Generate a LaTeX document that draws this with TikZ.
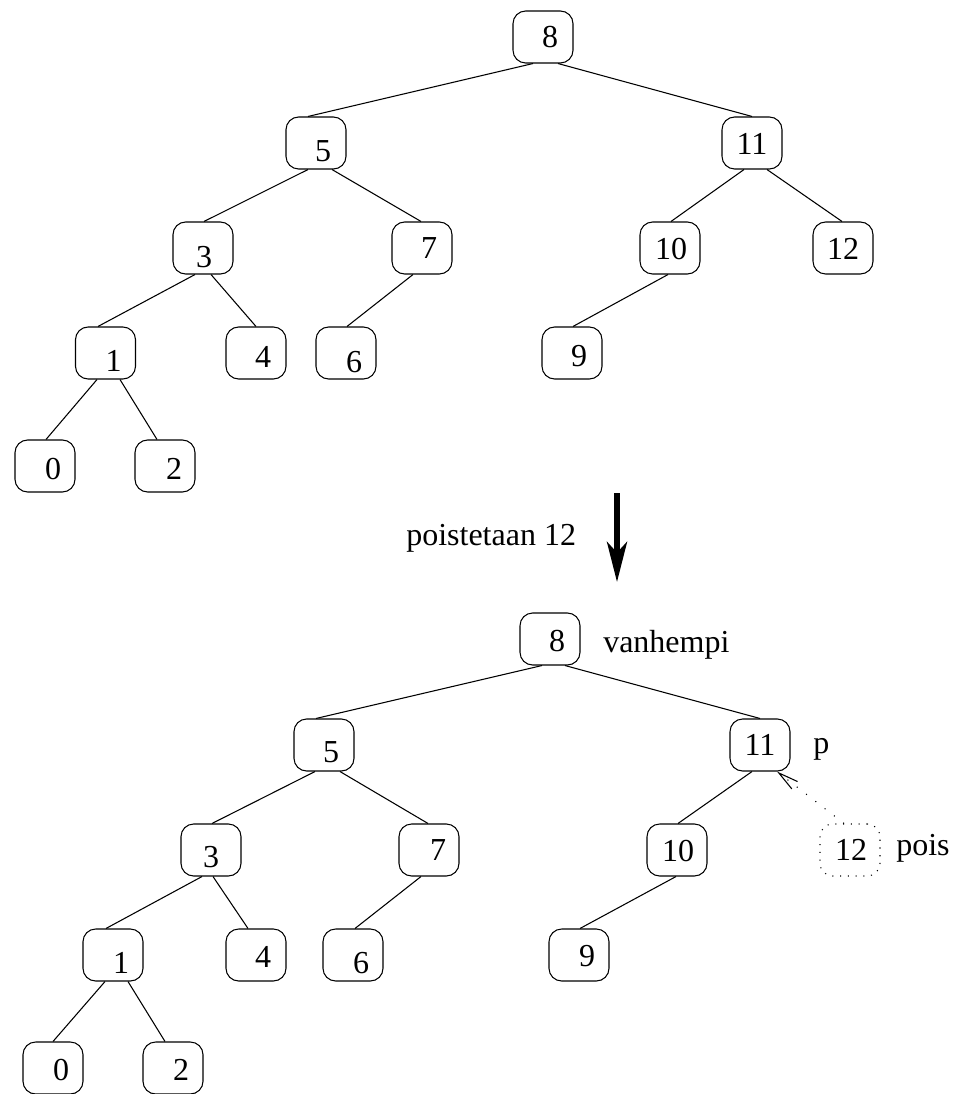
\documentclass[tikz,border=0pt]{standalone}
\usepackage{fontspec}
\setmainfont{Liberation Serif}
\usetikzlibrary{calc,arrows.meta}
\tikzset{
  tbox/.style={draw, line width=0.8pt, rounded corners=9.5pt, minimum width=45pt, minimum height=39pt, inner sep=0pt},
  dbox/.style={tbox, dash pattern=on 0.8pt off 5pt},
  num/.style={inner sep=0pt, font=\fontsize{24}{28}\selectfont},
  lbl/.style={inner sep=0pt, anchor=base west, font=\fontsize{24}{28}\selectfont},
  edge/.style={line width=0.8pt},
}
\newcommand\tn[6]{\node[tbox] (#1) at (#2,#3) {}; \node[num] (#1t) at ($(#1)+(#4,#5)$) {#6};}
\newcommand\ed[4]{\draw[edge] ($(#1.south)+(#2,0)$) -- ($(#3.north)+(#4,0)$);}
\begin{document}
\begin{tikzpicture}[x=0.75pt,y=-0.75pt]
\useasboundingbox (0,0) rectangle (956,1094);
% top tree
\tn{a8}{543}{37}{7}{0}{8}
\tn{a5}{316}{143}{7}{8}{5}
\tn{a11}{752}{143}{0}{1}{11}
\tn{a3}{203}{248}{1}{9}{3}
\tn{a7}{422}{248}{7}{0}{7}
\tn{a10}{670}{248}{1}{1}{10}
\tn{a12}{843}{248}{0}{1}{12}
\tn{a1}{105.5}{353}{8}{8}{1}
\tn{a4}{256}{353}{7}{4}{4}
\tn{a6}{346}{353}{8}{9}{6}
\tn{a9}{572}{353}{7}{3}{9}
\tn{a0}{45}{466}{8}{3}{0}
\tn{a2}{165}{466}{9}{3}{2}
\ed{a8}{-10}{a5}{-8}
\ed{a8}{15}{a11}{0}
\ed{a5}{-8}{a3}{1}
\ed{a5}{16}{a7}{-1}
\ed{a3}{-8}{a1}{-7.5}
\ed{a3}{8}{a4}{0}
\ed{a7}{-9}{a6}{1}
\ed{a11}{-8}{a10}{1}
\ed{a11}{15}{a12}{-1}
\ed{a10}{-2}{a9}{1}
\ed{a1}{-8.5}{a0}{1}
\ed{a1}{14.5}{a2}{-8}
% big arrow
\coordinate (arS) at (617,493);
\coordinate (arE) at (617,582);
\draw[line width=4.3pt, -{Stealth[length=30pt, width=15pt, inset=8pt]}] (arS) -- (arE);
\node[lbl] (lpois12) at (406,545) {poistetaan 12};
% bottom tree
\tn{b8}{550}{639}{7}{2}{8}
\tn{b5}{324}{745}{7}{7}{5}
\tn{b11}{760}{745}{0}{0}{11}
\tn{b3}{211}{850}{0}{7}{3}
\tn{b7}{429}{850}{9}{0}{7}
\tn{b10}{677}{850}{1}{1}{10}
\node[dbox] (b12) at (850,850) {};
\node[num] (b12t) at ($(b12)+(1,0)$) {12};
\tn{b1}{113}{955}{8}{8}{1}
\tn{b4}{256}{955}{7}{2}{4}
\tn{b6}{353}{955}{8}{8}{6}
\tn{b9}{579}{955}{8}{1}{9}
\tn{b0}{53}{1068}{8}{2}{0}
\tn{b2}{173}{1068}{8}{2}{2}
\ed{b8}{-8}{b5}{-8}
\ed{b8}{15}{b11}{0}
\ed{b5}{-9}{b3}{1}
\ed{b5}{16}{b7}{-1}
\ed{b3}{-9}{b1}{-7}
\ed{b3}{2}{b4}{-8}
\ed{b7}{-8}{b6}{2}
\ed{b11}{-8}{b10}{1}
\ed{b10}{-1}{b9}{1}
\ed{b1}{-8}{b0}{0}
\ed{b1}{15}{b2}{-8}
\draw[line width=0.8pt, dash pattern=on 0.8pt off 8pt, -{Straight Barb[length=15pt, width=7pt]}] ($(b12.north)+(-6,0)$) -- ($(b11.south)+(17,0)$);
\node[lbl] (lvanh) at (603,652) {vanhempi};
\node[lbl] (lp) at (813,753) {p};
\node[lbl] (lpois) at (896,855) {pois};
\end{tikzpicture}
\end{document}
